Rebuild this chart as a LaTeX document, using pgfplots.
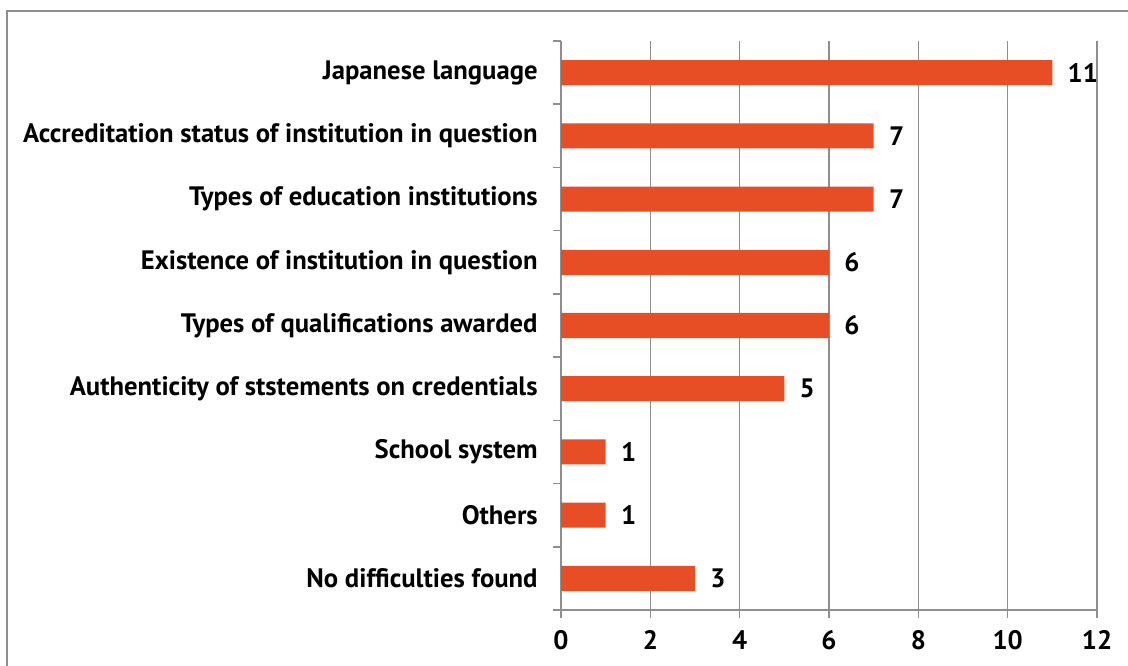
\documentclass[border=0pt]{standalone}
\usepackage{pgfplots}
\pgfplotsset{compat=1.18}
\usepackage{fontspec}
\setmainfont{PT Sans}
\definecolor{barc}{HTML}{E84E25}
\definecolor{gridc}{HTML}{8E8E8E}
\begin{document}
\begin{tikzpicture}
\useasboundingbox (0pt,0pt) rectangle (846pt,499.5pt);
\draw[gridc,line width=1.5pt] (5.25pt,-10pt) -- (5.25pt,491.25pt) -- (860pt,491.25pt);
\begin{axis}[
  at={(420.75pt,42pt)}, anchor=south west,
  scale only axis, width=402pt, height=426.75pt,
  xbar, bar width=18.75pt,
  xmin=0, xmax=12, xtick={0,2,...,12},
  ymin=-0.5, ymax=8.5,
  ytick={0,...,8},
  yticklabels={No difficulties found,Others,School system,Authenticity of ststements on credentials,Types of qualifications awarded,Existence of institution in question,Types of education institutions,Accreditation status of institution in question,Japanese language},
  minor ytick={-0.5,0.5,...,8.5},
  axis lines*=left,
  axis line style={gridc,line width=1.2pt,-},
  xmajorgrids, grid style={gridc,line width=1.2pt},
  tick align=outside,
  major tick length=6pt,
  minor tick length=6pt,
  xtick style={gridc,line width=1.2pt},
  ytick style={gridc,line width=1.2pt},
  major y tick style={draw=none},
  tick label style={font=\fontsize{20}{22}\selectfont\bfseries, text=black},
  /pgf/number format/assume math mode=true,
  yticklabel style={xshift=-8pt},
  xticklabel style={yshift=-6pt},
  nodes near coords,
  nodes near coords style={font=\fontsize{20}{22}\selectfont\bfseries, text=black, xshift=8pt},
  clip=false,
]
\addplot[fill=barc, draw=none] coordinates {(3,0) (1,1) (1,2) (5,3) (6,4) (6,5) (7,6) (7,7) (11,8)};
\end{axis}
\end{tikzpicture}
\end{document}
